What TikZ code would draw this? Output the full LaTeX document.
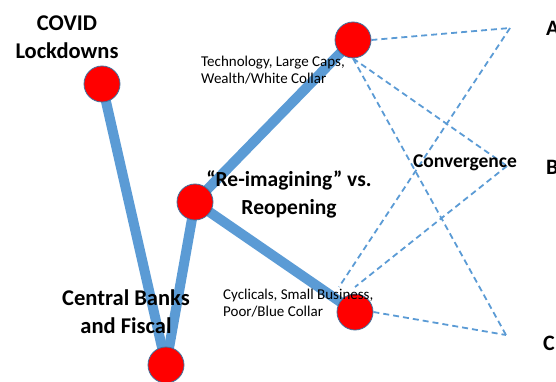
\documentclass[tikz,border=0pt]{standalone}
\usepackage{fontspec}
\setmainfont{Carlito}
\usetikzlibrary{backgrounds}
\definecolor{linkblue}{HTML}{5B9BD5}
\definecolor{ringblue}{HTML}{41719C}
\tikzset{
  hub/.style={circle, minimum size=36pt, inner sep=0pt, fill=red, draw=ringblue, line width=0.8pt},
  thick link/.style={draw=linkblue, line width=10pt},
  soft link/.style={draw=linkblue, line width=1.8pt, dash pattern=on 6pt off 4pt},
  big label/.style={font=\bfseries\fontsize{22.5}{28}\selectfont, align=center, inner sep=0pt},
  small label/.style={font=\fontsize{15}{17.5}\selectfont, align=left, inner sep=0pt, anchor=west},
  end label/.style={font=\bfseries\fontsize{22}{24}\selectfont, inner sep=0pt, anchor=west}
}
\begin{document}
\begin{tikzpicture}[x=1pt, y=-1pt]
\useasboundingbox (0,0) rectangle (556,382);

% red hubs
\node[hub] (covid)  at (102,84)  {};
\node[hub] (banks)  at (166,365) {};
\node[hub] (reimag) at (195,202) {};
\node[hub] (top)    at (353,40)  {};
\node[hub] (bot)    at (355,312) {};

% outcome points
\coordinate (pA) at (510,28);
\coordinate (pB) at (507,166);
\coordinate (pC) at (506,335);
\coordinate (aEnd) at (339,287);
\coordinate (bEnd) at (355,287);

% thick paths behind the hubs
\begin{scope}[on background layer]
  \draw[thick link] (covid.center) -- (banks.center);
  \draw[thick link] (banks.center) -- (reimag.center);
  \draw[thick link] (reimag.center) -- (top.center);
  \draw[thick link] (reimag.center) -- (bot.center);
\end{scope}

% dashed fan towards the outcomes
\draw[soft link] (top.east) -- (pA);
\draw[soft link] (top.south) -- (pB);
\draw[soft link] (top.south) -- (pC);
\draw[soft link] (pA) -- (aEnd);
\draw[soft link] (pB) -- (bEnd);
\draw[soft link] (bot.east) -- (pC);

% labels
\node[big label] (tcovid) at (67,37) {COVID\\Lockdowns};
\node[big label] (tbanks) at (126,312) {Central Banks\\and Fiscal};
\node[big label, font=\bfseries\fontsize{21.5}{28}\selectfont] (treimag) at (289,194) {“Re-imagining” vs.\\Reopening};
\node[font=\bfseries\fontsize{19.5}{22}\selectfont, inner sep=0pt] (tconv) at (465,163) {Convergence};
\node[small label] (ttech) at (201,70) {Technology, Large Caps,\\Wealth/White Collar};
\node[small label] (tcycl) at (223,303) {Cyclicals, Small Business,\\Poor/Blue Collar};
\node[end label] (ta) at (546,28) {A};
\node[end label] (tb) at (546,167) {B};
\node[end label] (tc) at (543,343) {C};
\end{tikzpicture}
\end{document}
